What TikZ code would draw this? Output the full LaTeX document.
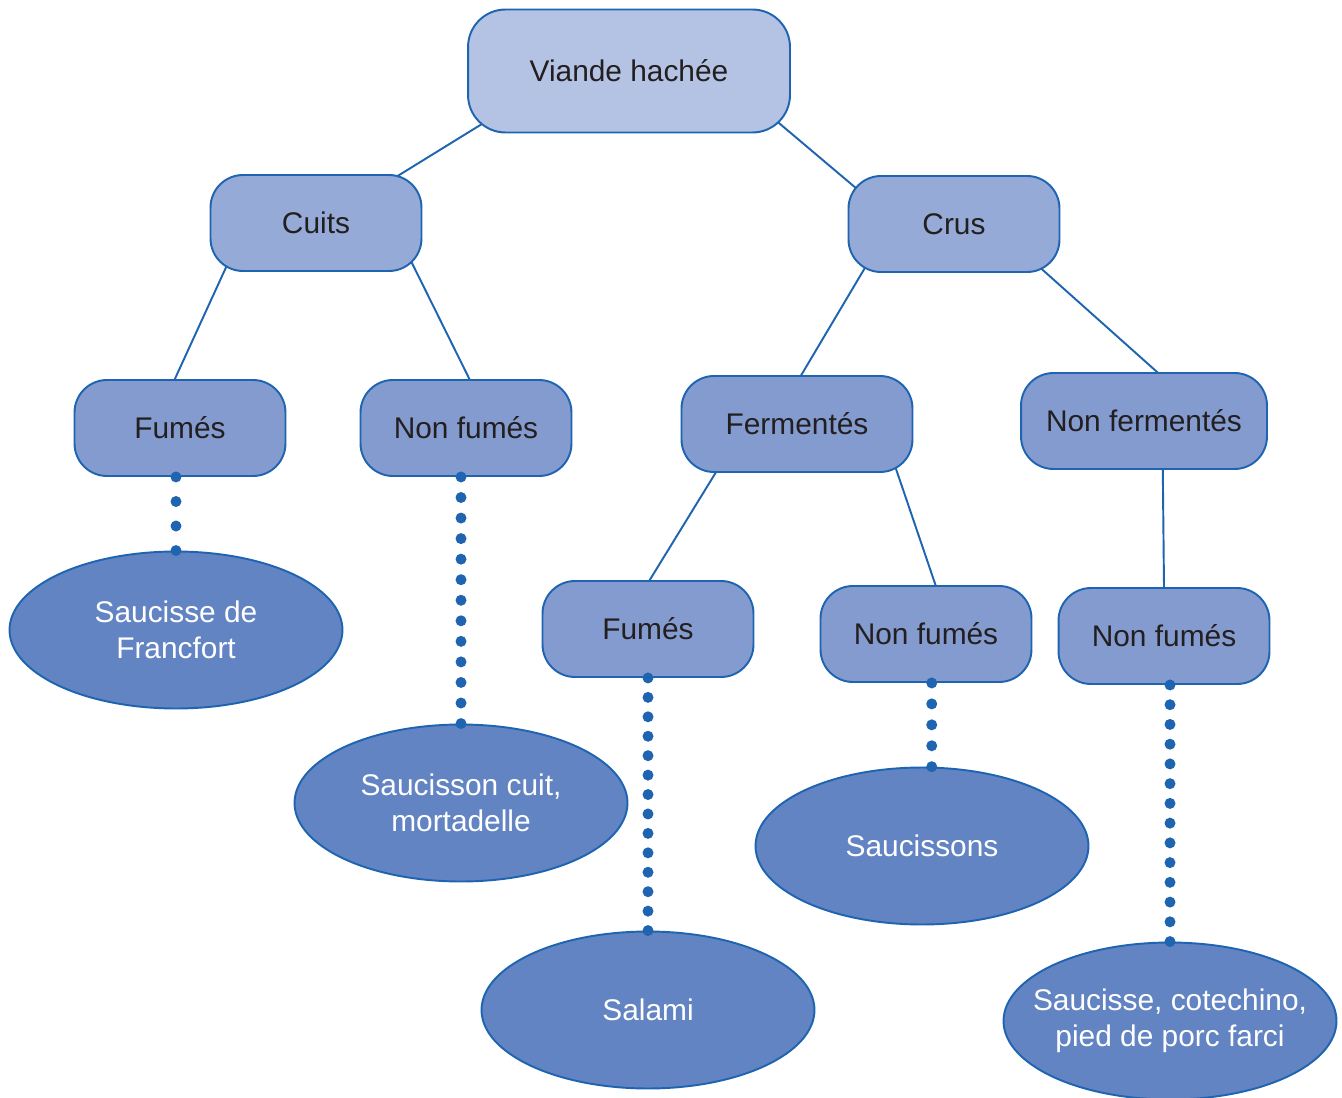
\documentclass[tikz,border=0pt]{standalone}
\usepackage{fontspec}
\setmainfont{Liberation Sans}
\usepackage{tikz}
\usetikzlibrary{shapes.geometric,calc,decorations}
\definecolor{Border}{RGB}{30,100,176}
\definecolor{Ink}{RGB}{35,31,32}
\definecolor{TopFill}{RGB}{180,194,227}
\definecolor{CatFill}{RGB}{150,170,216}
\definecolor{SubFill}{RGB}{132,155,207}
\definecolor{ProdFill}{RGB}{99,132,195}
\pgfdeclarelayer{bg}
\pgfsetlayers{bg,main}
\tikzset{
  topbox/.style={draw=Border,line width=1.1pt,rounded corners=0.75cm,fill=TopFill,minimum width=6.44cm,minimum height=2.46cm,text=Ink,font=\fontsize{17}{20.4}\selectfont},
  catbox/.style={draw=Border,line width=1.1pt,rounded corners=0.65cm,fill=CatFill,minimum width=4.22cm,minimum height=1.92cm,text=Ink,font=\fontsize{17}{20.4}\selectfont},
  subbox/.style={catbox,fill=SubFill},
  product/.style={ellipse,draw=Border,line width=1.1pt,fill=ProdFill,minimum width=6.66cm,minimum height=3.14cm,inner xsep=-0.45cm,inner ysep=0pt,align=center,text=white,font=\fontsize{17}{20.4}\selectfont},
  link/.style={draw=Border,line width=1.1pt,shorten <=-0.4cm,shorten >=-0.4cm},
  dotlink/.style={draw=Border,line width=0.22cm,line cap=round,dash pattern=on 0pt off 0.38cm,dash expand off}
}
\begin{document}
\begin{tikzpicture}[x=0.02cm,y=-0.02cm]
\useasboundingbox (0,0) rectangle (1342,1098);
% categories
\node[topbox] (viande) at (629,71) {Viande hachée};
\node[catbox] (cuits) at (316,223) {Cuits};
\node[catbox] (crus) at (954,224) {Crus};
\node[subbox] (fumes1) at (180,428) {Fumés};
\node[subbox] (nonfumes1) at (466,428) {Non fumés};
\node[subbox,minimum width=4.62cm] (ferm) at (797,424) {Fermentés};
\node[subbox,minimum width=4.92cm] (nonferm) at (1144,421) {Non fermentés};
\node[subbox] (fumes2) at (648,629) {Fumés};
\node[subbox] (nonfumes2) at (926,634) {Non fumés};
\node[subbox] (nonfumes3) at (1164,636) {Non fumés};
% products
\node[product] (francfort) at (176,630) {Saucisse de\\Francfort};
\node[product] (mortadelle) at (461,803) {Saucisson cuit,\\mortadelle};
\node[product] (saucissons) at (922,846) {Saucissons};
\node[product] (salami) at (648,1010) {Salami};
\node[product] (porc) at (1170,1021) {Saucisse, cotechino,\\pied de porc farci};
\begin{pgfonlayer}{bg}
\draw[link](viande.201)--(cuits.30);
\draw[link](viande.339)--(crus.158);
\draw[link](cuits.208)--(fumes1.96);
\draw[link](cuits.334)--(nonfumes1.86);
\draw[link](crus.208)--(ferm.85);
\draw[link](crus.332)--(nonferm.75);
\draw[link](ferm.211)--(fumes2.88);
\draw[link](ferm.334)--(nonfumes2.79);
\draw[link](nonferm.291)--(nonfumes3.north);
\end{pgfonlayer}
\draw[dotlink](francfort.north |- fumes1.south)--(francfort.north);
\draw[dotlink](mortadelle.north |- nonfumes1.south)--(mortadelle.north);
\draw[dotlink](salami.north |- fumes2.south)--(salami.north);
\draw[dotlink](saucissons.83 |- nonfumes2.south)--(saucissons.83);
\draw[dotlink](porc.north |- nonfumes3.south)--(porc.north);
\end{tikzpicture}
\end{document}
